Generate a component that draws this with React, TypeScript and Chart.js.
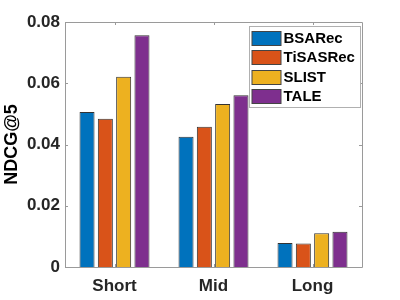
import React, { useEffect, useRef } from "react";
import { Chart, registerables } from "chart.js";

Chart.register(...registerables);

const categories = ["Short", "Mid", "Long"];
const seriesNames = ["BSARec", "TiSASRec", "SLIST", "TALE"];
const bsarec = [0.0506, 0.0425, 0.0078];
const tisasrec = [0.0484, 0.0458, 0.0077];
const slist = [0.0621, 0.0532, 0.0110];
const tale = [0.0757, 0.0561, 0.0115];
const colors = ["#0072BD", "#D95319", "#EDB120", "#7E2F8E"];
const yTicks = [0, 0.02, 0.04, 0.06, 0.08];
const yTitle = "NDCG@5";

const FONT = "'Liberation Sans', Arial, Helvetica, sans-serif";
const AXIS_COLOR = "#9a9a9a";
const TEXT_COLOR = "#262626";

const boxPlugin = {
  id: "matlabBox",
  afterDatasetsDraw(chart: any) {
    const { ctx, chartArea } = chart;
    const { left, right, top, bottom } = chartArea;
    const x = chart.scales.x;
    const y = chart.scales.y;
    ctx.save();
    ctx.strokeStyle = AXIS_COLOR;
    ctx.lineWidth = 1;
    ctx.beginPath();
    ctx.rect(Math.round(left) + 0.5, Math.round(top) + 0.5, Math.round(right - left), Math.round(bottom - top));
    ctx.stroke();
    const tl = 3;
    ctx.beginPath();
    yTicks.forEach((v) => {
      const py = Math.round(y.getPixelForValue(v)) + 0.5;
      ctx.moveTo(left, py);
      ctx.lineTo(left + tl, py);
      ctx.moveTo(right, py);
      ctx.lineTo(right - tl, py);
    });
    categories.forEach((_, i) => {
      const px = Math.round(x.getPixelForValue(i)) + 0.5;
      ctx.moveTo(px, top);
      ctx.lineTo(px, top + tl);
      ctx.moveTo(px, bottom);
      ctx.lineTo(px, bottom - tl);
    });
    ctx.stroke();

    // legend
    const lx = Math.round(right) - 13 + 0.5 - 100;
    const lw = 111;
    const ly = Math.round(top) + 4 + 0.5;
    const lh = 81;
    ctx.fillStyle = "#ffffff";
    ctx.fillRect(lx, ly, lw, lh);
    ctx.strokeStyle = "#b0b0b0";
    ctx.strokeRect(lx, ly, lw, lh);
    ctx.font = `bold 15px ${FONT}`;
    ctx.textBaseline = "middle";
    ctx.textAlign = "left";
    chart.data.datasets.forEach((ds: any, i: number) => {
      const cy = ly + 11 + i * 19.6;
      ctx.fillStyle = ds.backgroundColor;
      ctx.fillRect(lx + 2.5, Math.round(cy - 7) + 0.5, 29, 14);
      ctx.strokeStyle = "#444";
      ctx.strokeRect(lx + 2.5, Math.round(cy - 7) + 0.5, 29, 14);
      ctx.fillStyle = "#000";
      ctx.fillText(ds.label, lx + 34, cy + 1);
    });
    ctx.restore();
  },
};

export default function App() {
  const ref = useRef<HTMLCanvasElement | null>(null);
  useEffect(() => {
    if (!ref.current) return;
    const series = [bsarec, tisasrec, slist, tale];
    const chart = new Chart(ref.current, {
      type: "bar",
      data: {
        labels: categories,
        datasets: series.map((d, i) => ({
          label: seriesNames[i],
          data: d,
          backgroundColor: colors[i],
          borderColor: "#333333",
          borderWidth: 1,
          categoryPercentage: 0.74,
          barPercentage: 0.82,
        })),
      },
      options: {
        responsive: false,
        animation: false,
        devicePixelRatio: 1,
        layout: { padding: { top: 22, right: 38, left: 0, bottom: 0 } },
        plugins: { legend: { display: false }, tooltip: { enabled: false } },
        scales: {
          x: {
            grid: { display: false, drawTicks: false },
            border: { display: false },
            ticks: {
              color: TEXT_COLOR,
              padding: 9,
              font: { family: FONT, size: 17, weight: "bold" },
            },
            afterFit: (s: any) => {
              s.height = 33;
            },
          },
          y: {
            min: 0,
            max: 0.08,
            grid: { display: false, drawTicks: false },
            border: { display: false },
            afterBuildTicks: (s: any) => {
              s.ticks = yTicks.map((v) => ({ value: v }));
            },
            ticks: {
              color: TEXT_COLOR,
              padding: 5,
              font: { family: FONT, size: 17, weight: "bold" },
              callback: (v: any) => (Number(v) === 0 ? "0" : Number(v).toFixed(2)),
            },
            title: {
              display: true,
              text: yTitle,
              color: "#000",
              padding: { top: 1, bottom: 0 },
              font: { family: FONT, size: 18, weight: "bold" },
            },
            afterFit: (s: any) => {
              s.width = 65;
            },
          },
        },
      },
      plugins: [boxPlugin],
    } as any);
    return () => chart.destroy();
  }, []);
  return (
    <div style={{ position: "fixed", left: 0, top: 0, width: 400, height: 300, background: "#fff" }}>
      <canvas ref={ref} width={400} height={300} style={{ width: 400, height: 300, display: "block" }} />
    </div>
  );
}
